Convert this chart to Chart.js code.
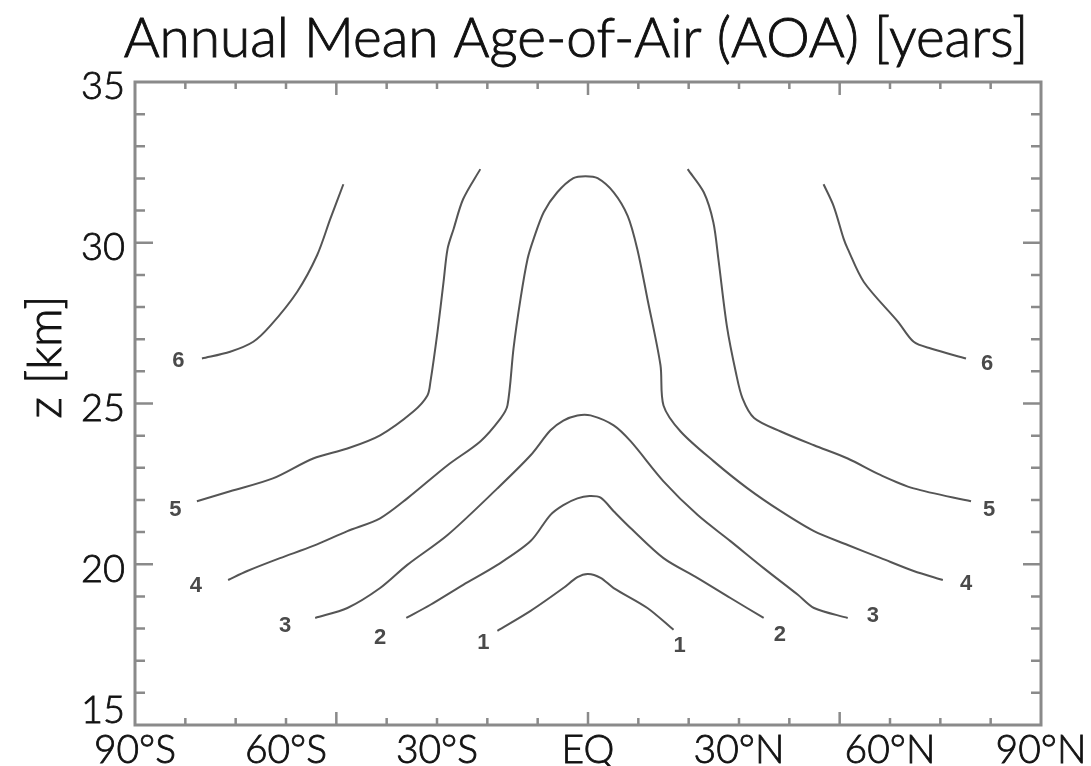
<!DOCTYPE html>
<html>
<head>
<meta charset="utf-8">
<script src="https://cdn.jsdelivr.net/npm/chart.js@4.4.0/dist/chart.umd.min.js"></script>
<style>
  html, body { margin: 0; padding: 0; background: #fff; }
</style>
</head>
<body>
<canvas id="aoaChart" width="1091" height="766"></canvas>
<script>
// Age-of-air contours: latitude in degrees (south negative) vs height in km
const c1Lat = [-18.0, -11.4, -4.9, -2.1, 0, 2.5, 5.1, 11.8, 17.0];
const c1Z   = [17.93, 18.55, 19.26, 19.60, 19.70, 19.58, 19.26, 18.64, 17.96];

const c2Lat = [-36.1, -31.3, -24.8, -18.0, -11.4, -7.5, -4.9, -2.1, 0.3, 2.5, 5.1, 8.5, 15.0, 21.8, 28.3, 34.9];
const c2Z   = [18.33, 18.74, 19.36, 19.98, 20.72, 21.53, 21.84, 22.05, 22.12, 22.07, 21.65, 21.12, 20.19, 19.57, 18.95, 18.33];

const c3Lat = [-54.2, -47.8, -41.3, -35.9, -27.9, -18.0, -11.4, -7.5, -4.9, -2.1, 0.5, 5.1, 8.5, 15.0, 21.8, 28.3, 34.9, 41.7, 44.9, 51.6];
const c3Z   = [18.33, 18.64, 19.26, 19.98, 20.91, 22.36, 23.39, 24.16, 24.47, 24.63, 24.63, 24.32, 23.82, 22.58, 21.53, 20.72, 19.88, 19.05, 18.64, 18.33];

const c4Lat = [-71.5, -67.7, -61.2, -54.6, -47.8, -41.3, -35.9, -27.9, -21.4, -17.4, -16.0, -14.8, -13.4, -12.0, -10.8,
               -8.8, -6.1, -2.9, -0.5, 1.9, 5.1, 7.9, 9.8, 11.8, 14.4, 15.0, 18.4, 25.0, 31.7, 38.3, 44.9, 51.6, 58.2, 64.7, 70.5];
const c4Z   = [19.51, 19.79, 20.19, 20.57, 21.03, 21.43, 22.05, 23.08, 23.82, 24.53, 24.94, 26.71, 28.26, 29.50, 30.12,
               30.95, 31.57, 32.01, 32.07, 32.01, 31.57, 30.83, 29.80, 28.26, 26.19, 24.94, 24.13, 23.20, 22.36, 21.65, 21.03, 20.60, 20.19, 19.79, 19.51];

const c5sLat = [-77.7, -71.1, -62.6, -54.6, -47.8, -41.3, -34.7, -31.9, -31.3, -29.9, -28.7, -27.9, -26.7, -24.8, -21.4];
const c5sZ   = [21.96, 22.27, 22.67, 23.29, 23.60, 24.01, 24.75, 25.25, 25.68, 27.23, 28.78, 29.81, 30.43, 31.36, 32.29];
const c5nLat = [19.8, 23.0, 24.9, 25.9, 27.6, 29.4, 30.7, 33.0, 38.3, 44.9, 51.6, 58.2, 64.7, 76.1];
const c5nZ   = [32.29, 31.57, 30.64, 29.50, 27.40, 25.95, 25.16, 24.55, 24.13, 23.70, 23.29, 22.77, 22.36, 21.96];

const c6sLat = [-76.7, -71.1, -66.5, -63.1, -57.8, -53.8, -51.2, -48.6];
const c6sZ   = [26.40, 26.61, 26.92, 27.42, 28.47, 29.62, 30.74, 31.82];
const c6nLat = [46.8, 48.8, 50.8, 51.6, 54.8, 61.6, 64.7, 68.1, 75.1];
const c6nZ   = [31.82, 31.14, 30.12, 29.81, 28.78, 27.54, 26.92, 26.71, 26.40];

// contour level labels (years) and where they sit
const labelLevels = [6, 6, 5, 5, 4, 4, 3, 3, 2, 2, 1, 1];
const labelLat = [-81.4, 79.3, -82.0, 79.7, -77.9, 75.1, -60.2, 56.6, -41.3, 38.1, -20.8, 18.2];
const labelZ   = [26.33, 26.24, 21.68, 21.68, 19.33, 19.39, 18.09, 18.40, 17.71, 17.80, 17.56, 17.47];

// axis ticks
const xTickValues = [-90, -60, -30, 0, 30, 60, 90];
const xTickLabels = ['90°S', '60°S', '30°S', 'EQ', '30°N', '60°N', '90°N'];
const yTickValues = [15, 20, 25, 30, 35];

const FONT = 'Lato, "Noto Sans", sans-serif';
const INK = '#111';
const LINE = '#555';

function toPoints(lat, z) {
    return lat.map((v, i) => ({ x: v, y: z[i] }));
}

function contour(lat, z) {
    return {
        data: toPoints(lat, z),
        showLine: true,
        borderColor: LINE,
        borderWidth: 2,
        pointRadius: 0,
        tension: 0.3
    };
}

// light face with a thin outline, a touch heavier than Lato Light alone
function heavyText(ctx, text, px, py) {
    ctx.fillText(text, px, py);
    ctx.strokeText(text, px, py);
}

// box, inward tick marks, contour numbers, title and y title
const decorPlugin = {
    id: 'decor',
    afterDatasetsDraw(chart) {
        const { ctx, chartArea: a, scales: { x, y } } = chart;
        ctx.save();

        // minor/major ticks pointing into the plot, on all four sides
        ctx.strokeStyle = '#8a8a8a';
        ctx.lineWidth = 2.5;
        ctx.beginPath();
        for (let lat = -80; lat <= 80; lat += 10) {
            const px = x.getPixelForValue(lat);
            const len = lat % 50 === 0 ? 13 : 7;
            ctx.moveTo(px, a.bottom); ctx.lineTo(px, a.bottom - len);
            ctx.moveTo(px, a.top); ctx.lineTo(px, a.top + len);
        }
        for (let z = 16; z <= 34; z++) {
            const py = y.getPixelForValue(z);
            const len = z % 5 === 0 ? 18 : 10;
            ctx.moveTo(a.left, py); ctx.lineTo(a.left + len, py);
            ctx.moveTo(a.right, py); ctx.lineTo(a.right - len, py);
        }
        ctx.stroke();

        ctx.lineWidth = 3;
        ctx.strokeRect(a.left, a.top, a.right - a.left, a.bottom - a.top);

        // contour level numbers
        ctx.fillStyle = '#4a4a4a';
        ctx.font = 'bold 22px "Liberation Sans", Arial, sans-serif';
        ctx.textAlign = 'center';
        ctx.textBaseline = 'middle';
        labelLevels.forEach((lev, i) => {
            ctx.fillText(String(lev), x.getPixelForValue(labelLat[i]), y.getPixelForValue(labelZ[i]));
        });

        // title
        ctx.fillStyle = INK;
        ctx.strokeStyle = INK;
        ctx.lineWidth = 0.9;
        ctx.font = '300 55px ' + FONT;
        ctx.textBaseline = 'alphabetic';
        heavyText(ctx, 'Annual Mean Age-of-Air (AOA) [years]', 576, 57);

        // y axis title
        ctx.translate(46, 357);
        ctx.rotate(-Math.PI / 2);
        ctx.font = '300 48px ' + FONT;
        ctx.textBaseline = 'middle';
        heavyText(ctx, 'z [km]', 0, 0);
        ctx.restore();
    }
};

const ctx = document.getElementById('aoaChart').getContext('2d');

new Chart(ctx, {
    type: 'scatter',
    data: {
        datasets: [
            contour(c1Lat, c1Z),
            contour(c2Lat, c2Z),
            contour(c3Lat, c3Z),
            contour(c4Lat, c4Z),
            contour(c5sLat, c5sZ),
            contour(c5nLat, c5nZ),
            contour(c6sLat, c6sZ),
            contour(c6nLat, c6nZ)
        ]
    },
    options: {
        responsive: false,
        animation: false,
        layout: { padding: { top: 82, right: 50, left: 0, bottom: 0 } },
        plugins: {
            legend: { display: false },
            tooltip: { enabled: false },
            title: { display: false }
        },
        scales: {
            x: {
                type: 'linear',
                min: -90,
                max: 90,
                afterBuildTicks(scale) {
                    scale.ticks = xTickValues.map(v => ({ value: v }));
                },
                afterFit(scale) {
                    scale.height = 41;
                    scale.paddingLeft = 0;
                    scale.paddingRight = 0;
                },
                grid: { display: false, drawTicks: false },
                border: { display: false },
                ticks: {
                    autoSkip: false,
                    maxRotation: 0,
                    padding: 2,
                    color: INK,
                    textStrokeColor: INK,
                    textStrokeWidth: 0.8,
                    font: { family: FONT, size: 39, weight: '300' },
                    callback: (v) => xTickLabels[xTickValues.indexOf(v)]
                }
            },
            y: {
                type: 'linear',
                min: 15,
                max: 35,
                afterBuildTicks(scale) {
                    scale.ticks = yTickValues.map(v => ({ value: v }));
                },
                afterFit(scale) {
                    scale.width = 135;
                    scale.paddingTop = 0;
                    scale.paddingBottom = 0;
                },
                grid: { display: false, drawTicks: false },
                border: { display: false },
                ticks: {
                    padding: 10,
                    labelOffset: 5,
                    color: INK,
                    textStrokeColor: INK,
                    textStrokeWidth: 0.8,
                    font: { family: FONT, size: 38, weight: '300', lineHeight: 1 },
                    // the bottom label is lifted clear of the latitude labels
                    callback: (v) => (v === 15 ? ['15', ''] : String(v))
                }
            }
        }
    },
    plugins: [decorPlugin]
});
</script>
</body>
</html>
